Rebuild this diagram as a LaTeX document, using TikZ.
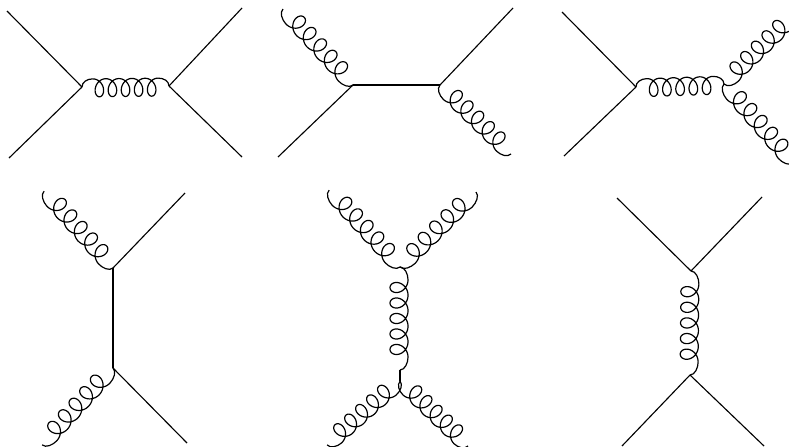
\documentclass[tikz,border=0pt]{standalone}
\usetikzlibrary{calc}
\tikzset{
  quark/.style={line width=0.8pt},
  gluon/.style={line width=0.85pt,line join=round}
}
% gluon from #1 to #2, the loops lie on the right hand side
\newcommand{\gluon}[2]{
  \path let \p1=($(#2)-(#1)$) in \pgfextra{
    \pgfmathsetmacro\glen{veclen(\x1,\y1)}\global\let\glen\glen
    \pgfmathsetmacro\gang{atan2(\y1,\x1)}\global\let\gang\gang};
  \pgfmathsetmacro\gstart{0.124*\glen}
  \pgfmathsetmacro\gstep{\glen/6.65/360}
  \pgfmathsetmacro\gwide{0.083*\glen}
  \begin{scope}[shift={(#1)},rotate=\gang,x=1pt,y=1pt]
    \draw[gluon] (0,0) .. controls (0,3.5) and ({\gstart-4},5.7) .. (\gstart,5.7)
      -- plot[domain=0:1800,samples=181,variable=\t] ({\gstart+\gstep*\t+\gwide*sin(\t)},{6.4*cos(\t)-0.7})
      .. controls ({\glen-\gstart+4},5.7) and (\glen,3.5) .. (\glen,0);
  \end{scope}
}
\begin{document}
\begin{tikzpicture}[x=0.025cm,y=-0.025cm]
\useasboundingbox (0,0) rectangle (789,447);
% s channel, quarks
\coordinate (a) at (82,87);
\coordinate (b) at (169,86);
\coordinate (a1) at (7,11);
\coordinate (a2) at (9,158);
\coordinate (b1) at (242,8);
\coordinate (b2) at (242,157);
% two gluons out
\coordinate (c) at (353,85);
\coordinate (d) at (440,85);
\coordinate (c1) at (283,9);
\coordinate (c2) at (278,157);
\coordinate (d1) at (513,8);
\coordinate (d2) at (511,154);
% gluon splitting
\coordinate (e) at (636,87);
\coordinate (f) at (724,84);
\coordinate (e1) at (562,12);
\coordinate (e2) at (564,156);
\coordinate (f1) at (795,15);
\coordinate (f2) at (793,163);
% t channel
\coordinate (g) at (113,268);
\coordinate (h) at (113,368);
\coordinate (g1) at (44,191);
\coordinate (g2) at (185,193);
\coordinate (h1) at (42,445);
\coordinate (h2) at (187,443);
% four gluons
\coordinate (i) at (400,267);
\coordinate (j) at (400,370);
\coordinate (k) at (400,381);
\coordinate (i1) at (329,190);
\coordinate (i2) at (476,192);
\coordinate (k1) at (327,445);
\coordinate (k2) at (468,446);
% t channel gluon
\coordinate (l) at (691,271);
\coordinate (m) at (690,375);
\coordinate (l1) at (617,198);
\coordinate (l2) at (762,197);
\coordinate (m1) at (622,446);
\coordinate (m2) at (764,446);

\foreach \u/\v in {a1/a,a2/a,b/b1,b/b2,c2/c,c/d,d/d1,e1/e,e2/e,g/g2,g/h,h/h2,j/k,l1/l,l2/l,m/m1,m/m2}{
  \draw[quark] (\u)--(\v);
}
\foreach \u/\v in {a/b,e/f,c/c1,d2/d,f1/f,f2/f,g/g1,h/h1,i/i1,i2/i,i/j,k/k1,k2/k,l/m}{
  \gluon{\u}{\v}
}
\end{tikzpicture}
\end{document}
